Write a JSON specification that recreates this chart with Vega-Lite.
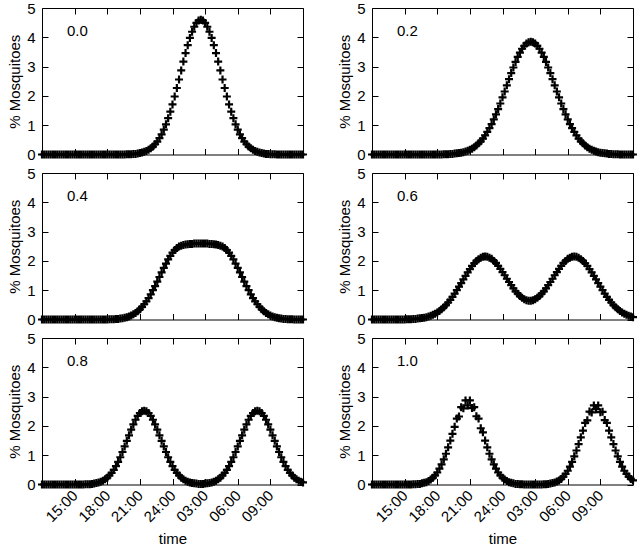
{
"$schema": "https://vega.github.io/schema/vega-lite/v6.json",
"background": "white",
"padding": {"left": 7, "top": 0, "right": 4, "bottom": 0},
"data": {"values": [
{"h":0,"a":0,"b":0,"c":0,"d":0,"e":0,"f":0},
{"h":0.2,"a":0,"b":0,"c":0,"d":0,"e":0,"f":0},
{"h":0.4,"a":0,"b":0,"c":0,"d":0,"e":0,"f":0},
{"h":0.6,"a":0,"b":0,"c":0,"d":0,"e":0,"f":0},
{"h":0.8,"a":0,"b":0,"c":0,"d":0,"e":0,"f":0},
{"h":1.0,"a":0,"b":0,"c":0,"d":0,"e":0,"f":0},
{"h":1.2,"a":0,"b":0,"c":0,"d":0,"e":0,"f":0},
{"h":1.4,"a":0,"b":0,"c":0,"d":0,"e":0,"f":0},
{"h":1.6,"a":0,"b":0,"c":0,"d":0,"e":0,"f":0},
{"h":1.8,"a":0,"b":0,"c":0,"d":0,"e":0,"f":0},
{"h":2.0,"a":0,"b":0,"c":0,"d":0,"e":0,"f":0},
{"h":2.2,"a":0,"b":0,"c":0,"d":0,"e":0,"f":0},
{"h":2.4,"a":0,"b":0,"c":0,"d":0,"e":0,"f":0},
{"h":2.6,"a":0,"b":0,"c":0,"d":0,"e":0,"f":0},
{"h":2.8,"a":0,"b":0,"c":0,"d":0,"e":0,"f":0},
{"h":3.0,"a":0,"b":0,"c":0,"d":0,"e":0,"f":0},
{"h":3.2,"a":0,"b":0,"c":0,"d":0.01,"e":0,"f":0},
{"h":3.4,"a":0,"b":0,"c":0,"d":0.01,"e":0,"f":0},
{"h":3.6,"a":0,"b":0,"c":0,"d":0.01,"e":0,"f":0},
{"h":3.8,"a":0,"b":0,"c":0,"d":0.02,"e":0,"f":0.01},
{"h":4.0,"a":0,"b":0,"c":0,"d":0.02,"e":0.01,"f":0.01},
{"h":4.2,"a":0,"b":0,"c":0,"d":0.03,"e":0.01,"f":0.02},
{"h":4.4,"a":0,"b":0,"c":0,"d":0.04,"e":0.01,"f":0.02},
{"h":4.6,"a":0,"b":0,"c":0,"d":0.05,"e":0.02,"f":0.04},
{"h":4.8,"a":0,"b":0,"c":0,"d":0.06,"e":0.03,"f":0.06},
{"h":5.0,"a":0,"b":0,"c":0,"d":0.08,"e":0.05,"f":0.08},
{"h":5.2,"a":0,"b":0,"c":0,"d":0.10,"e":0.07,"f":0.12},
{"h":5.4,"a":0,"b":0,"c":0,"d":0.13,"e":0.09,"f":0.17},
{"h":5.6,"a":0,"b":0,"c":0,"d":0.16,"e":0.13,"f":0.23},
{"h":5.8,"a":0,"b":0,"c":0,"d":0.20,"e":0.18,"f":0.31},
{"h":6.0,"a":0,"b":0,"c":0,"d":0.24,"e":0.23,"f":0.41},
{"h":6.2,"a":0,"b":0,"c":0.01,"d":0.29,"e":0.31,"f":0.54},
{"h":6.4,"a":0,"b":0,"c":0.01,"d":0.35,"e":0.40,"f":0.69},
{"h":6.6,"a":0,"b":0.01,"c":0.01,"d":0.42,"e":0.50,"f":0.86},
{"h":6.8,"a":0,"b":0.01,"c":0.02,"d":0.49,"e":0.63,"f":1.05},
{"h":7.0,"a":0,"b":0.01,"c":0.02,"d":0.58,"e":0.77,"f":1.27},
{"h":7.2,"a":0,"b":0.02,"c":0.03,"d":0.67,"e":0.93,"f":1.50},
{"h":7.4,"a":0,"b":0.02,"c":0.04,"d":0.77,"e":1.11,"f":1.73},
{"h":7.6,"a":0,"b":0.03,"c":0.06,"d":0.88,"e":1.30,"f":1.97},
{"h":7.8,"a":0.01,"b":0.04,"c":0.08,"d":1.00,"e":1.49,"f":2.25},
{"h":8.0,"a":0.01,"b":0.05,"c":0.10,"d":1.12,"e":1.68,"f":2.32},
{"h":8.2,"a":0.01,"b":0.06,"c":0.14,"d":1.24,"e":1.87,"f":2.64},
{"h":8.4,"a":0.02,"b":0.08,"c":0.18,"d":1.37,"e":2.05,"f":2.60},
{"h":8.6,"a":0.02,"b":0.10,"c":0.22,"d":1.49,"e":2.21,"f":2.87},
{"h":8.8,"a":0.03,"b":0.13,"c":0.28,"d":1.61,"e":2.34,"f":2.70},
{"h":9.0,"a":0.05,"b":0.16,"c":0.35,"d":1.72,"e":2.44,"f":2.87},
{"h":9.2,"a":0.07,"b":0.20,"c":0.43,"d":1.83,"e":2.50,"f":2.61},
{"h":9.4,"a":0.09,"b":0.25,"c":0.52,"d":1.92,"e":2.52,"f":2.64},
{"h":9.6,"a":0.12,"b":0.31,"c":0.62,"d":2.00,"e":2.50,"f":2.33},
{"h":9.8,"a":0.16,"b":0.38,"c":0.73,"d":2.06,"e":2.44,"f":2.25},
{"h":10.0,"a":0.21,"b":0.45,"c":0.86,"d":2.11,"e":2.34,"f":1.92},
{"h":10.2,"a":0.27,"b":0.54,"c":1.00,"d":2.14,"e":2.21,"f":1.78},
{"h":10.4,"a":0.35,"b":0.65,"c":1.14,"d":2.15,"e":2.05,"f":1.50},
{"h":10.6,"a":0.44,"b":0.77,"c":1.29,"d":2.14,"e":1.87,"f":1.27},
{"h":10.8,"a":0.56,"b":0.90,"c":1.45,"d":2.11,"e":1.68,"f":1.05},
{"h":11.0,"a":0.69,"b":1.04,"c":1.61,"d":2.07,"e":1.49,"f":0.86},
{"h":11.2,"a":0.85,"b":1.20,"c":1.76,"d":2.00,"e":1.30,"f":0.69},
{"h":11.4,"a":1.03,"b":1.37,"c":1.91,"d":1.93,"e":1.11,"f":0.54},
{"h":11.6,"a":1.24,"b":1.55,"c":2.05,"d":1.83,"e":0.93,"f":0.41},
{"h":11.8,"a":1.46,"b":1.74,"c":2.17,"d":1.73,"e":0.77,"f":0.31},
{"h":12.0,"a":1.71,"b":1.95,"c":2.28,"d":1.62,"e":0.63,"f":0.23},
{"h":12.2,"a":1.98,"b":2.15,"c":2.37,"d":1.51,"e":0.50,"f":0.17},
{"h":12.4,"a":2.27,"b":2.36,"c":2.44,"d":1.39,"e":0.40,"f":0.12},
{"h":12.6,"a":2.56,"b":2.57,"c":2.49,"d":1.28,"e":0.31,"f":0.08},
{"h":12.8,"a":2.87,"b":2.78,"c":2.52,"d":1.17,"e":0.23,"f":0.06},
{"h":13.0,"a":3.17,"b":2.97,"c":2.54,"d":1.06,"e":0.18,"f":0.04},
{"h":13.2,"a":3.46,"b":3.16,"c":2.56,"d":0.96,"e":0.13,"f":0.02},
{"h":13.4,"a":3.73,"b":3.33,"c":2.57,"d":0.88,"e":0.09,"f":0.02},
{"h":13.6,"a":3.98,"b":3.48,"c":2.58,"d":0.80,"e":0.07,"f":0.01},
{"h":13.8,"a":4.19,"b":3.61,"c":2.58,"d":0.74,"e":0.05,"f":0.01},
{"h":14.0,"a":4.36,"b":3.71,"c":2.59,"d":0.69,"e":0.04,"f":0},
{"h":14.2,"a":4.49,"b":3.79,"c":2.59,"d":0.66,"e":0.03,"f":0},
{"h":14.4,"a":4.57,"b":3.83,"c":2.59,"d":0.64,"e":0.02,"f":0},
{"h":14.6,"a":4.60,"b":3.85,"c":2.59,"d":0.64,"e":0.02,"f":0},
{"h":14.8,"a":4.57,"b":3.83,"c":2.59,"d":0.66,"e":0.02,"f":0},
{"h":15.0,"a":4.49,"b":3.79,"c":2.59,"d":0.69,"e":0.03,"f":0},
{"h":15.2,"a":4.36,"b":3.71,"c":2.59,"d":0.74,"e":0.04,"f":0},
{"h":15.4,"a":4.19,"b":3.61,"c":2.58,"d":0.80,"e":0.05,"f":0},
{"h":15.6,"a":3.98,"b":3.48,"c":2.58,"d":0.88,"e":0.07,"f":0},
{"h":15.8,"a":3.73,"b":3.33,"c":2.57,"d":0.96,"e":0.09,"f":0.01},
{"h":16.0,"a":3.46,"b":3.16,"c":2.56,"d":1.06,"e":0.13,"f":0.01},
{"h":16.2,"a":3.17,"b":2.97,"c":2.54,"d":1.17,"e":0.18,"f":0.02},
{"h":16.4,"a":2.87,"b":2.78,"c":2.52,"d":1.28,"e":0.23,"f":0.03},
{"h":16.6,"a":2.56,"b":2.57,"c":2.49,"d":1.39,"e":0.31,"f":0.05},
{"h":16.8,"a":2.27,"b":2.36,"c":2.44,"d":1.51,"e":0.40,"f":0.07},
{"h":17.0,"a":1.98,"b":2.15,"c":2.37,"d":1.62,"e":0.50,"f":0.10},
{"h":17.2,"a":1.71,"b":1.95,"c":2.28,"d":1.73,"e":0.63,"f":0.14},
{"h":17.4,"a":1.46,"b":1.74,"c":2.17,"d":1.83,"e":0.77,"f":0.19},
{"h":17.6,"a":1.24,"b":1.55,"c":2.05,"d":1.93,"e":0.93,"f":0.27},
{"h":17.8,"a":1.03,"b":1.37,"c":1.91,"d":2.00,"e":1.11,"f":0.36},
{"h":18.0,"a":0.85,"b":1.20,"c":1.76,"d":2.07,"e":1.30,"f":0.47},
{"h":18.2,"a":0.69,"b":1.04,"c":1.61,"d":2.11,"e":1.49,"f":0.61},
{"h":18.4,"a":0.56,"b":0.90,"c":1.45,"d":2.14,"e":1.68,"f":0.77},
{"h":18.6,"a":0.44,"b":0.77,"c":1.29,"d":2.15,"e":1.87,"f":0.96},
{"h":18.8,"a":0.35,"b":0.65,"c":1.14,"d":2.14,"e":2.05,"f":1.16},
{"h":19.0,"a":0.27,"b":0.54,"c":1.00,"d":2.11,"e":2.21,"f":1.38},
{"h":19.2,"a":0.21,"b":0.45,"c":0.86,"d":2.06,"e":2.34,"f":1.61},
{"h":19.4,"a":0.16,"b":0.38,"c":0.73,"d":2.00,"e":2.44,"f":1.84},
{"h":19.6,"a":0.12,"b":0.31,"c":0.62,"d":1.92,"e":2.50,"f":2.10},
{"h":19.8,"a":0.09,"b":0.25,"c":0.52,"d":1.83,"e":2.52,"f":2.19},
{"h":20.0,"a":0.07,"b":0.20,"c":0.43,"d":1.72,"e":2.50,"f":2.49},
{"h":20.2,"a":0.05,"b":0.16,"c":0.35,"d":1.61,"e":2.44,"f":2.46},
{"h":20.4,"a":0.03,"b":0.13,"c":0.28,"d":1.49,"e":2.34,"f":2.70},
{"h":20.6,"a":0.02,"b":0.10,"c":0.22,"d":1.37,"e":2.21,"f":2.57},
{"h":20.8,"a":0.02,"b":0.08,"c":0.18,"d":1.24,"e":2.05,"f":2.70},
{"h":21.0,"a":0.01,"b":0.06,"c":0.14,"d":1.12,"e":1.87,"f":2.47},
{"h":21.2,"a":0.01,"b":0.05,"c":0.10,"d":1.00,"e":1.68,"f":2.48},
{"h":21.4,"a":0.01,"b":0.04,"c":0.08,"d":0.88,"e":1.49,"f":2.20},
{"h":21.6,"a":0,"b":0.03,"c":0.06,"d":0.77,"e":1.30,"f":2.10},
{"h":21.8,"a":0,"b":0.02,"c":0.04,"d":0.67,"e":1.11,"f":1.84},
{"h":22.0,"a":0,"b":0.02,"c":0.03,"d":0.58,"e":0.93,"f":1.61},
{"h":22.2,"a":0,"b":0.01,"c":0.02,"d":0.49,"e":0.77,"f":1.38},
{"h":22.4,"a":0,"b":0.01,"c":0.02,"d":0.42,"e":0.63,"f":1.16},
{"h":22.6,"a":0,"b":0.01,"c":0.01,"d":0.35,"e":0.50,"f":0.96},
{"h":22.8,"a":0,"b":0,"c":0.01,"d":0.29,"e":0.40,"f":0.77},
{"h":23.0,"a":0,"b":0,"c":0.01,"d":0.24,"e":0.31,"f":0.61},
{"h":23.2,"a":0,"b":0,"c":0,"d":0.20,"e":0.23,"f":0.47},
{"h":23.4,"a":0,"b":0,"c":0,"d":0.16,"e":0.18,"f":0.36},
{"h":23.6,"a":0,"b":0,"c":0,"d":0.13,"e":0.13,"f":0.27},
{"h":23.8,"a":0,"b":0,"c":0,"d":0.10,"e":0.09,"f":0.19},
{"h":24.0,"a":0,"b":0,"c":0,"d":0.08,"e":0.07,"f":0.14}
]},
"concat": [
{"width": 261, "height": 146.5, "layer": [
 {"mark": {"type": "point", "shape": "M-1,0H1M0,-1V1", "filled": false, "size": 64, "strokeWidth": 2.2, "color": "black", "opacity": 1},
  "encoding": {"x": {"field": "h", "type": "quantitative", "scale": {"domain": [0, 24], "nice": false}, "axis": {"orient": "bottom", "values": [3,6,9,12,15,18,21], "labels": false, "title": null}},
   "y": {"field": "a", "type": "quantitative", "scale": {"domain": [0, 5], "nice": false}, "axis": {"orient": "left", "values": [0,1,2,3,4,5], "title": "% Mosquitoes"}}}},
 {"data": {"values": [{"label": "0.0"}]},
  "mark": {"type": "text", "align": "left", "baseline": "middle", "fontSize": 15, "font": "Liberation Sans", "color": "black"},
  "encoding": {"text": {"field": "label"},
   "x": {"datum": 2.3, "type": "quantitative", "scale": {"domain": [0, 24], "nice": false}, "axis": {"orient": "top", "values": [3,6,9,12,15,18,21], "labels": false, "title": null}},
   "y": {"datum": 4.2, "type": "quantitative", "scale": {"domain": [0, 5], "nice": false}, "axis": {"orient": "right", "values": [0,1,2,3,4,5], "labels": false, "title": null}}}}
 ], "resolve": {"axis": {"x": "independent", "y": "independent"}}},
{"width": 261, "height": 146.5, "layer": [
 {"mark": {"type": "point", "shape": "M-1,0H1M0,-1V1", "filled": false, "size": 64, "strokeWidth": 2.2, "color": "black", "opacity": 1},
  "encoding": {"x": {"field": "h", "type": "quantitative", "scale": {"domain": [0, 24], "nice": false}, "axis": {"orient": "bottom", "values": [3,6,9,12,15,18,21], "labels": false, "title": null}},
   "y": {"field": "b", "type": "quantitative", "scale": {"domain": [0, 5], "nice": false}, "axis": {"orient": "left", "values": [0,1,2,3,4,5], "title": "% Mosquitoes"}}}},
 {"data": {"values": [{"label": "0.2"}]},
  "mark": {"type": "text", "align": "left", "baseline": "middle", "fontSize": 15, "font": "Liberation Sans", "color": "black"},
  "encoding": {"text": {"field": "label"},
   "x": {"datum": 2.3, "type": "quantitative", "scale": {"domain": [0, 24], "nice": false}, "axis": {"orient": "top", "values": [3,6,9,12,15,18,21], "labels": false, "title": null}},
   "y": {"datum": 4.2, "type": "quantitative", "scale": {"domain": [0, 5], "nice": false}, "axis": {"orient": "right", "values": [0,1,2,3,4,5], "labels": false, "title": null}}}}
 ], "resolve": {"axis": {"x": "independent", "y": "independent"}}},
{"width": 261, "height": 146.5, "layer": [
 {"mark": {"type": "point", "shape": "M-1,0H1M0,-1V1", "filled": false, "size": 64, "strokeWidth": 2.2, "color": "black", "opacity": 1},
  "encoding": {"x": {"field": "h", "type": "quantitative", "scale": {"domain": [0, 24], "nice": false}, "axis": {"orient": "bottom", "values": [3,6,9,12,15,18,21], "labels": false, "title": null}},
   "y": {"field": "c", "type": "quantitative", "scale": {"domain": [0, 5], "nice": false}, "axis": {"orient": "left", "values": [0,1,2,3,4,5], "title": "% Mosquitoes"}}}},
 {"data": {"values": [{"label": "0.4"}]},
  "mark": {"type": "text", "align": "left", "baseline": "middle", "fontSize": 15, "font": "Liberation Sans", "color": "black"},
  "encoding": {"text": {"field": "label"},
   "x": {"datum": 2.3, "type": "quantitative", "scale": {"domain": [0, 24], "nice": false}, "axis": {"orient": "top", "values": [3,6,9,12,15,18,21], "labels": false, "title": null}},
   "y": {"datum": 4.2, "type": "quantitative", "scale": {"domain": [0, 5], "nice": false}, "axis": {"orient": "right", "values": [0,1,2,3,4,5], "labels": false, "title": null}}}}
 ], "resolve": {"axis": {"x": "independent", "y": "independent"}}},
{"width": 261, "height": 146.5, "layer": [
 {"mark": {"type": "point", "shape": "M-1,0H1M0,-1V1", "filled": false, "size": 64, "strokeWidth": 2.2, "color": "black", "opacity": 1},
  "encoding": {"x": {"field": "h", "type": "quantitative", "scale": {"domain": [0, 24], "nice": false}, "axis": {"orient": "bottom", "values": [3,6,9,12,15,18,21], "labels": false, "title": null}},
   "y": {"field": "d", "type": "quantitative", "scale": {"domain": [0, 5], "nice": false}, "axis": {"orient": "left", "values": [0,1,2,3,4,5], "title": "% Mosquitoes"}}}},
 {"data": {"values": [{"label": "0.6"}]},
  "mark": {"type": "text", "align": "left", "baseline": "middle", "fontSize": 15, "font": "Liberation Sans", "color": "black"},
  "encoding": {"text": {"field": "label"},
   "x": {"datum": 2.3, "type": "quantitative", "scale": {"domain": [0, 24], "nice": false}, "axis": {"orient": "top", "values": [3,6,9,12,15,18,21], "labels": false, "title": null}},
   "y": {"datum": 4.2, "type": "quantitative", "scale": {"domain": [0, 5], "nice": false}, "axis": {"orient": "right", "values": [0,1,2,3,4,5], "labels": false, "title": null}}}}
 ], "resolve": {"axis": {"x": "independent", "y": "independent"}}},
{"width": 261, "height": 146.5, "layer": [
 {"mark": {"type": "point", "shape": "M-1,0H1M0,-1V1", "filled": false, "size": 64, "strokeWidth": 2.2, "color": "black", "opacity": 1},
  "encoding": {"x": {"field": "h", "type": "quantitative", "scale": {"domain": [0, 24], "nice": false}, "axis": {"orient": "bottom", "values": [3,6,9,12,15,18,21], "labelExpr": "datum.value == 12 ? '24:00' : datum.value < 12 ? (datum.value + 12) + ':00' : '0' + (datum.value - 12) + ':00'", "labelAngle": -45, "labelAlign": "right", "labelBaseline": "middle", "labelOverlap": false, "title": "time"}},
   "y": {"field": "e", "type": "quantitative", "scale": {"domain": [0, 5], "nice": false}, "axis": {"orient": "left", "values": [0,1,2,3,4,5], "title": "% Mosquitoes"}}}},
 {"data": {"values": [{"label": "0.8"}]},
  "mark": {"type": "text", "align": "left", "baseline": "middle", "fontSize": 15, "font": "Liberation Sans", "color": "black"},
  "encoding": {"text": {"field": "label"},
   "x": {"datum": 2.3, "type": "quantitative", "scale": {"domain": [0, 24], "nice": false}, "axis": {"orient": "top", "values": [3,6,9,12,15,18,21], "labels": false, "title": null}},
   "y": {"datum": 4.2, "type": "quantitative", "scale": {"domain": [0, 5], "nice": false}, "axis": {"orient": "right", "values": [0,1,2,3,4,5], "labels": false, "title": null}}}}
 ], "resolve": {"axis": {"x": "independent", "y": "independent"}}},
{"width": 261, "height": 146.5, "layer": [
 {"mark": {"type": "point", "shape": "M-1,0H1M0,-1V1", "filled": false, "size": 64, "strokeWidth": 2.2, "color": "black", "opacity": 1},
  "encoding": {"x": {"field": "h", "type": "quantitative", "scale": {"domain": [0, 24], "nice": false}, "axis": {"orient": "bottom", "values": [3,6,9,12,15,18,21], "labelExpr": "datum.value == 12 ? '24:00' : datum.value < 12 ? (datum.value + 12) + ':00' : '0' + (datum.value - 12) + ':00'", "labelAngle": -45, "labelAlign": "right", "labelBaseline": "middle", "labelOverlap": false, "title": "time"}},
   "y": {"field": "f", "type": "quantitative", "scale": {"domain": [0, 5], "nice": false}, "axis": {"orient": "left", "values": [0,1,2,3,4,5], "title": "% Mosquitoes"}}}},
 {"data": {"values": [{"label": "1.0"}]},
  "mark": {"type": "text", "align": "left", "baseline": "middle", "fontSize": 15, "font": "Liberation Sans", "color": "black"},
  "encoding": {"text": {"field": "label"},
   "x": {"datum": 2.3, "type": "quantitative", "scale": {"domain": [0, 24], "nice": false}, "axis": {"orient": "top", "values": [3,6,9,12,15,18,21], "labels": false, "title": null}},
   "y": {"datum": 4.2, "type": "quantitative", "scale": {"domain": [0, 5], "nice": false}, "axis": {"orient": "right", "values": [0,1,2,3,4,5], "labels": false, "title": null}}}}
 ], "resolve": {"axis": {"x": "independent", "y": "independent"}}}
],
"columns": 2,
"spacing": {"row": 18, "column": 69},
"bounds": "flush",
"config": {
 "view": {"stroke": "black", "strokeWidth": 1},
 "axis": {"domain": false, "grid": false, "tickSize": -6, "tickColor": "black", "tickWidth": 1, "labelColor": "black", "titleColor": "black", "labelFont": "Liberation Sans", "titleFont": "Liberation Sans", "labelFontSize": 15, "titleFontSize": 15, "titleFontWeight": "normal"},
 "axisY": {"labelPadding": 13, "titlePadding": 4},
 "axisX": {"labelPadding": 14, "titlePadding": 7}
}
}
